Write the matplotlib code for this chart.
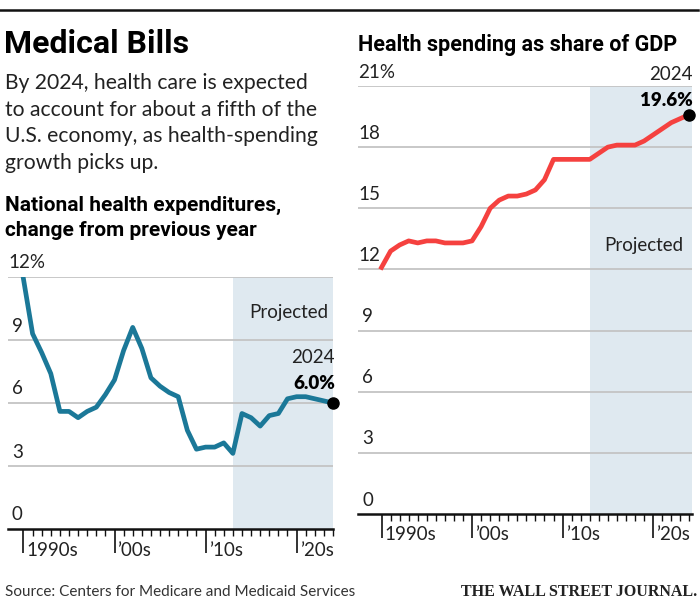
import matplotlib
matplotlib.use("Agg")
import matplotlib.pyplot as plt
import matplotlib.transforms as mtrans

# data
years = list(range(1990, 2025))
nhe_growth = [11.9, 9.3, 8.4, 7.4, 5.6, 5.6, 5.3, 5.6, 5.8, 6.4, 7.1, 8.5, 9.6, 8.6, 7.2,
              6.8, 6.5, 6.3, 4.7, 3.8, 3.9, 3.9, 4.1, 3.6, 5.5, 5.3, 4.9, 5.4, 5.5, 6.2,
              6.3, 6.3, 6.2, 6.1, 6.0]
gdp_share = [12.1, 12.9, 13.2, 13.4, 13.3, 13.4, 13.4, 13.3, 13.3, 13.3, 13.4, 14.1, 15.0,
             15.4, 15.6, 15.6, 15.7, 15.9, 16.4, 17.4, 17.4, 17.4, 17.4, 17.4, 17.7, 18.0,
             18.1, 18.1, 18.1, 18.3, 18.6, 18.9, 19.2, 19.4, 19.6]
decade_ticks = [1990, 2000, 2010, 2020]
decade_labels = ["1990s", "\u201900s", "\u201910s", "\u201920s"]
proj_start = 2013
subtitle = ["By 2024, health care is expected",
            "to account for about a fifth of the",
            "U.S. economy, as health-spending",
            "growth picks up."]

TEAL = "#1b7898"
RED = "#f5413f"
SHADE = "#dfe9f0"
GRID = "#c4c4c4"
TXT = "#222222"

sans = ["Roboto", "DejaVu Sans"]
body = ["Lato", "DejaVu Sans"]

fig = plt.figure(figsize=(7, 6.04), dpi=100)


def setup(ax, yticks, ymax, xlim):
    ax.set_xlim(*xlim)
    ax.set_ylim(0, ymax)
    ax.axvspan(proj_start, xlim[1], ymin=0, ymax=1, color=SHADE, lw=0, zorder=0)
    for y in yticks:
        if y > 0:
            ax.axhline(y, color=GRID, lw=1.3, zorder=1)
    for s in ["top", "right", "left"]:
        ax.spines[s].set_visible(False)
    ax.spines["bottom"].set_linewidth(1.8)
    ax.spines["bottom"].set_color("#111111")
    ax.set_yticks([])
    ax.set_xticks(decade_ticks)
    ax.set_xticks(years, minor=True)
    ax.set_xticklabels([])
    ax.tick_params(axis="x", which="major", length=17, width=1.2, color="#111111", direction="out")
    ax.tick_params(axis="x", which="minor", length=5, width=1, color="#111111", direction="out")
    trans = mtrans.blended_transform_factory(ax.transAxes, ax.transData)
    off = mtrans.offset_copy(trans, fig=fig, x=0, y=14, units="dots")
    for y in yticks:
        lab = f"{y}%" if y == yticks[-1] else str(y)
        ax.text(0.0 if y >= 10 else 0.012, y, lab, transform=off, ha="left", va="center",
                fontsize=13.5, color=TXT, family=body)
    xt = mtrans.blended_transform_factory(ax.transData, ax.transAxes)
    xoff = mtrans.offset_copy(xt, fig=fig, x=3, y=-21, units="dots")
    for x, lab in zip(decade_ticks, decade_labels):
        ax.text(x, 0, lab, transform=xoff, ha="left", va="center", fontsize=13.5,
                color=TXT, family=body)


# left chart
ax1 = fig.add_axes([8 / 700, 75 / 604, 325 / 700, 252 / 604])
setup(ax1, [0, 3, 6, 9, 12], 12, (1988.3, 2024.0))
ax1.plot(years, nhe_growth, color=TEAL, lw=3.4, zorder=3)
ax1.plot(years[-1], nhe_growth[-1], "o", color="black", ms=8, zorder=4, clip_on=False)
ax1.text(2024.2, 8.15, "2024", ha="right", va="center", fontsize=13.5, color=TXT,
         family=body)
ax1.text(2024.2, 6.95, "6.0%", ha="right", va="center", fontsize=13.5, color="black",
         family=body, fontweight="heavy")
ax1.text(2019.2, 10.3, "Projected", ha="center", va="center", fontsize=13.5, color=TXT,
         family=body)

# right chart
ax2 = fig.add_axes([358 / 700, 90 / 604, 334 / 700, 428 / 604])
setup(ax2, [0, 3, 6, 9, 12, 15, 18, 21], 21, (1987.4, 2024.3))
ax2.plot(years, gdp_share, color=RED, lw=3.4, zorder=3)
ax2.plot(years[-1], gdp_share[-1], "o", color="black", ms=8, zorder=4, clip_on=False)
ax2.text(2024.4, 21.15, "2024", ha="right", va="bottom", fontsize=13.5, color=TXT,
         family=body)
ax2.text(2024.4, 20.3, "19.6%", ha="right", va="center", fontsize=13.5, color="black",
         family=body, fontweight="heavy")
ax2.text(2019.0, 13.15, "Projected", ha="center", va="center", fontsize=13.5, color=TXT,
         family=body)

# header texts
fig.add_artist(plt.Line2D([0, 698 / 700], [1 - 10 / 604, 1 - 10 / 604], color="#111111", lw=1.8))
fig.text(4 / 700, 1 - 44 / 604, "Medical Bills", ha="left", va="center", fontsize=23,
         fontweight="bold", family=sans, color="black")
for i, line in enumerate(subtitle):
    fig.text(5 / 700, 1 - (89 + 26.5 * i) / 604, line, ha="left", va="baseline",
             fontsize=15.2, family=body, color=TXT)
fig.text(5 / 700, 1 - 205 / 604, "National health expenditures,", ha="left", va="center",
         fontsize=15, fontweight="bold", family=sans, color="black")
fig.text(5 / 700, 1 - 230 / 604, "change from previous year", ha="left", va="center",
         fontsize=15, fontweight="bold", family=sans, color="black")
fig.text(358 / 700, 1 - 45 / 604, "Health spending as share of GDP", ha="left", va="center",
         fontsize=15.5, fontweight="bold", family=sans, color="black")

fig.text(5 / 700, 1 - 592 / 604, "Source: Centers for Medicare and Medicaid Services",
         ha="left", va="center", fontsize=11, family=body, color="#333333")
fig.text(697 / 700, 1 - 592 / 604, "THE WALL STREET JOURNAL.", ha="right", va="center",
         fontsize=11.5, family=["Liberation Serif", "DejaVu Serif"], fontweight="bold",
         color="#222222")

fig.savefig("out.png", dpi=100)
